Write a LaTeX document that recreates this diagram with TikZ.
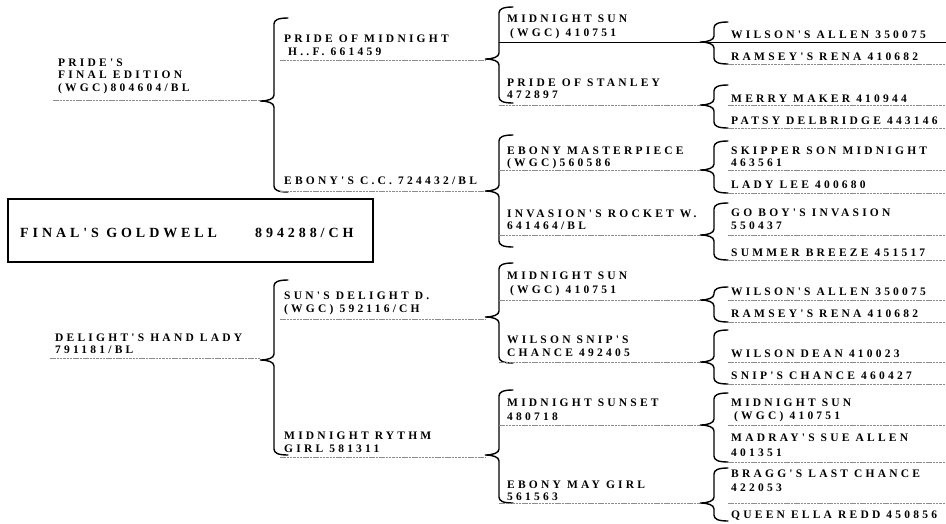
\documentclass[tikz,border=0pt]{standalone}
\usepackage{fontspec}
\newfontfamily\pedfont{Liberation Serif}[LetterSpace=28]
\newcommand\pedbrace[5]{%
  \coordinate (#1) at (#2,#4);
  \draw[brc] (#2+28,#3) .. controls (#2+18,#3) and (#2+14,#3+2) .. (#2+14,#3+6)
    -- (#2+14,#4-6) .. controls (#2+14,#4-2) and (#2+8,#4) .. (#1)
    .. controls (#2+8,#4) and (#2+14,#4+2) .. (#2+14,#4+6)
    -- (#2+14,#5-6) .. controls (#2+14,#5-2) and (#2+18,#5) .. (#2+28,#5);}
\newcommand\pedline[4]{%
  \coordinate (#1a) at (#2,#4); \coordinate (#1b) at (#3,#4);
  \draw[ulin] (#1a) -- (#1b);}
\begin{document}
\begin{tikzpicture}[x=1pt,y=-1pt,
  lbl/.style={font=\pedfont\bfseries\fontsize{11.5}{13}\selectfont, anchor=base west, inner sep=0pt},
  big/.style={font=\pedfont\bfseries\fontsize{14}{16}\selectfont, anchor=base west, inner sep=0pt},
  ulin/.style={draw=black!45, line width=0.6pt, dash pattern=on 2.5pt off 0.8pt},
  brc/.style={draw=black, line width=1.4pt, line cap=round}]
\useasboundingbox (0,0) rectangle (946,523);
\fill[white] (0,0) rectangle (946,523);

% main box
\node[draw, line width=1.8pt, inner sep=0pt, minimum width=365pt, minimum height=63pt, anchor=north west] (main) at (7,198) {};
\node[big] (mainA) at (20,237) {FINAL'S GOLDWELL};
\node[big] (mainB) at (255,237) {894288/CH};

% generation 1
\node[lbl] (s1a) at (58,66) {PRIDE'S};
\node[lbl] (s1b) at (58,78) {FINAL EDITION};
\node[lbl] (s1c) at (58,91) {(WGC)804604/BL};
\pedline{u1}{53}{260}{100}
\node[lbl] (d1a) at (55,341) {DELIGHT'S HAND LADY};
\node[lbl] (d1b) at (55,353) {791181/BL};
\pedline{u2}{50}{260}{358}

\pedbrace{B1}{260}{18}{101}{192}
\pedbrace{B2}{260}{280}{360}{455}

% generation 2
\node[lbl] (g2a) at (284,42) {PRIDE OF MIDNIGHT};
\node[lbl] (g2b) at (288,55) {H..F. 661459};
\pedline{u3}{280}{485}{60}
\node[lbl] (g2c) at (284,184) {EBONY'S C.C. 724432/BL};
\pedline{u4}{280}{485}{191}
\node[lbl] (g2d) at (284,299) {SUN'S DELIGHT D.};
\node[lbl] (g2e) at (284,312) {(WGC) 592116/CH};
\pedline{u5}{280}{485}{319}
\node[lbl] (g2f) at (284,439) {MIDNIGHT RYTHM};
\node[lbl] (g2g) at (284,452) {GIRL 581311};
\pedline{u6}{280}{485}{457}

\pedbrace{B3}{485}{7}{59}{103}
\pedbrace{B4}{485}{135}{191}{247}
\pedbrace{B5}{485}{263}{317}{363}
\pedbrace{B6}{485}{390}{455}{503}

% generation 3
\node[lbl] (g3a) at (507,22) {MIDNIGHT SUN};
\node[lbl] (g3b) at (510,36) {(WGC) 410751};
\coordinate (s3a) at (499,42); \coordinate (s3b) at (946,42);
\draw[black, line width=1pt] (s3a) -- (s3b);
\node[lbl] (g3c) at (507,86) {PRIDE OF STANLEY};
\node[lbl] (g3d) at (507,98) {472897};
\pedline{u7}{499}{700}{105}
\node[lbl] (g3e) at (507,154) {EBONY MASTERPIECE};
\node[lbl] (g3f) at (507,166) {(WGC)560586};
\pedline{u8}{499}{700}{170}
\node[lbl] (g3g) at (507,217) {INVASION'S ROCKET W.};
\node[lbl] (g3h) at (507,229) {641464/BL};
\pedline{u9}{499}{700}{235}
\node[lbl] (g3i) at (507,279) {MIDNIGHT SUN};
\node[lbl] (g3j) at (510,293) {(WGC) 410751};
\pedline{u10}{499}{700}{300}
\node[lbl] (g3k) at (507,343) {WILSON SNIP'S};
\node[lbl] (g3l) at (507,356) {CHANCE 492405};
\pedline{u11}{499}{700}{362}
\node[lbl] (g3m) at (507,406) {MIDNIGHT SUNSET};
\node[lbl] (g3n) at (507,420) {480718};
\pedline{u12}{499}{700}{425}
\node[lbl] (g3o) at (507,488) {EBONY MAY GIRL};
\node[lbl] (g3p) at (507,500) {561563};
\pedline{u13}{499}{700}{503}

\pedbrace{Ba}{700}{22}{42}{64}
\pedbrace{Bb}{700}{85}{105}{128}
\pedbrace{Bc}{700}{141}{170}{193}
\pedbrace{Bd}{700}{203}{235}{260}
\pedbrace{Be}{700}{287}{300}{322}
\pedbrace{Bf}{700}{330}{362}{384}
\pedbrace{Bg}{700}{393}{425}{462}
\pedbrace{Bh}{700}{468}{503}{521}

% generation 4
\node[lbl] (g4a) at (731,38) {WILSON'S ALLEN 350075};
\node[lbl] (g4b) at (731,60) {RAMSEY'S RENA 410682};
\pedline{v1}{728}{946}{64}
\node[lbl] (g4c) at (731,102) {MERRY MAKER 410944};
\pedline{v2}{728}{946}{105}
\node[lbl] (g4d) at (731,124) {PATSY DELBRIDGE 443146};
\pedline{v3}{728}{946}{128}
\node[lbl] (g4e) at (731,154) {SKIPPER SON MIDNIGHT};
\node[lbl] (g4f) at (731,166) {463561};
\pedline{v4}{728}{946}{170}
\node[lbl] (g4g) at (731,188) {LADY LEE 400680};
\pedline{v5}{728}{946}{193}
\node[lbl] (g4h) at (731,216) {GO BOY'S INVASION};
\node[lbl] (g4i) at (731,229) {550437};
\pedline{v6}{728}{946}{235}
\node[lbl] (g4j) at (731,256) {SUMMER BREEZE 451517};
\pedline{v7}{728}{946}{260}
\node[lbl] (g4k) at (731,295) {WILSON'S ALLEN 350075};
\pedline{v8}{728}{946}{300}
\node[lbl] (g4l) at (731,317) {RAMSEY'S RENA 410682};
\pedline{v9}{728}{946}{322}
\node[lbl] (g4m) at (731,357) {WILSON DEAN 410023};
\pedline{v10}{728}{946}{362}
\node[lbl] (g4n) at (731,379) {SNIP'S CHANCE 460427};
\pedline{v11}{728}{946}{384}
\node[lbl] (g4o) at (731,406) {MIDNIGHT SUN};
\node[lbl] (g4p) at (734,419) {(WGC) 410751};
\pedline{v12}{728}{946}{425}
\node[lbl] (g4q) at (731,441) {MADRAY'S SUE ALLEN};
\node[lbl] (g4r) at (731,456) {401351};
\pedline{v13}{728}{946}{462}
\node[lbl] (g4s) at (731,477) {BRAGG'S LAST CHANCE};
\node[lbl] (g4t) at (731,491) {422053};
\pedline{v14}{728}{946}{503}
\node[lbl] (g4u) at (731,518) {QUEEN ELLA REDD 450856};
\end{tikzpicture}
\end{document}
